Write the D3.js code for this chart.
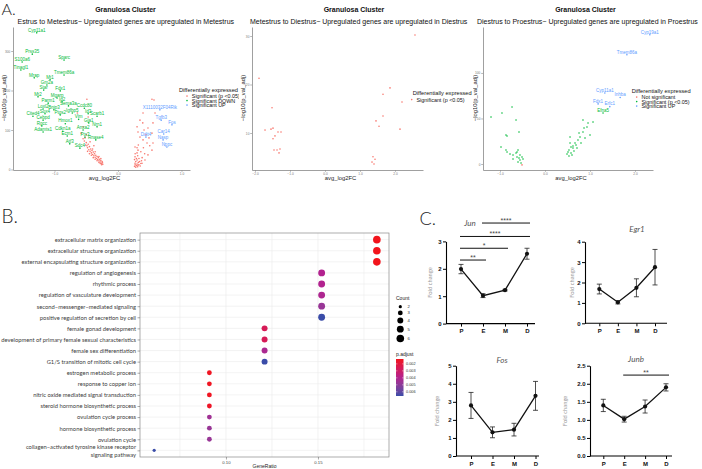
<!DOCTYPE html>
<html><head><meta charset="utf-8">
<script src="https://cdn.jsdelivr.net/npm/d3@7"></script>
<style>body{margin:0;background:#fff}svg{display:block}</style>
</head><body>
<svg id="c" width="702" height="469"></svg>
<script>
// ================= DATA =================
// Panel A.1  Estrus -> Metestrus
const v1Sig = [[-0.55,78],[-0.53,72],[-0.52,80],[-0.50,68],[-0.51,62],[-0.49,60],[-0.48,55],[-0.47,64],[-0.46,50],[-0.45,58],[-0.44,46],[-0.43,52],[-0.42,42],[-0.41,48],[-0.40,38],[-0.39,44],[-0.38,35],[-0.37,40],[-0.36,31],[-0.35,36],[-0.34,28],[-0.33,33],[-0.32,25],[-0.31,30],[-0.30,22],[-0.29,26],[-0.28,19],[-0.27,23],[-0.26,16],[-0.25,20],[-0.24,13],[-0.245,17],[-0.26,12],[-0.28,15],[-0.30,18],[-0.33,22],[-0.36,26],[-0.39,30],[-0.42,36],[-0.45,40],[-0.48,46],[-0.36,45],[-0.40,52],[-0.30,33],[-0.27,28],
  [-0.49,178],[-0.64,143],[-0.47,133],[-0.55,108],[-0.50,88],[-0.58,92],[-0.44,70],[-0.38,60],
  [0.30,108],[0.315,95],[0.346,82],[0.394,75],[0.457,67],[0.268,57],[0.315,49],[0.30,42],[0.268,32],[0.30,24],[0.268,16],[0.315,11],[0.378,16],[0.425,24],[0.472,37],[0.535,49],[0.551,67],[0.488,80],[0.535,92],[0.472,105],[0.551,118],[0.583,143],[0.535,178],[0.567,176],[0.394,143],[0.346,125],
  [0.26,8],[0.27,12],[0.28,6],[0.29,10],[0.30,14],[0.31,7],[0.32,18],[0.33,12],[0.34,20],[0.35,9],[0.36,15],[0.37,22],[0.28,20],[0.29,28],[0.31,35],[0.33,28],[0.26,25],[0.27,40],[0.30,55],[0.32,62],[0.36,45],[0.40,55],[0.42,40],[0.38,30],[0.41,100],[0.44,88],[0.50,60],[0.39,118]];
const v1Down = [["Cyp11a1",-1.28,346],["Prss35",-1.35,292],["S100a6",-1.51,272],["Tinagl1",-1.53,252],["Sparc",-0.85,277],["Mrap",-1.32,232],["Tmem86a",-0.85,239],["Mt1",-1.07,227],["Gm2a",-1.12,214],["Star",-1.17,201],["Fdx1",-0.91,199],["Mt2",-1.26,184],["Mgarp",-0.96,181],["Parm1",-1.10,168],["Id2",-0.88,171],["Loxl2",-1.18,153],["Sema3a",-0.78,161],["Bnip3",-1.01,151],["Ccdc80",-0.53,155],["Cited4",-1.34,135],["Sox4",-1.15,141],["Ptgs2",-0.91,138],["Igfbp5",-0.72,143],["Id3",-0.47,141],["Scarb1",-0.33,135],["Cebpd",-1.18,125],["Vim",-0.62,127],["Gja1",-0.46,118],["Hmox1",-0.83,116],["Rgcc",-1.20,110],["Nrn1",-0.33,108],["Adamts1",-1.18,95],["Cdkn1a",-0.87,97],["Anxa2",-0.55,100],["Ecm1",-0.80,85],["Ptx3",-0.52,82],["Rnase4",-0.35,75],["Atf3",-0.76,65],["Sdc4",-0.60,54]];
const v1Up = [["X1110032F04Rik",0.66,151],["Tgfb3",0.68,125],["Fos",0.85,113],["Car14",0.72,90],["Ddit4",0.44,82],["Nasp",0.71,75],["Nppc",0.77,57]];
const v1XTicks = [-1,0,1], v1YTicks = [0,100,200,300];

// Panel A.2  Metestrus -> Diestrus
const v2Sig = [[2.571,30.2],[-1.886,21.3],[1.857,19.3],[1.657,18.0],[2.2,16.4],[-1.514,15.2],[1.657,13.5],[1.457,12.5],[1.543,11.4],[-1.714,10.6],[-1.543,10.8],[-1.486,11.0],[2.143,10.8],[-1.343,10.2],[-1.257,10.2],[-1.429,9.4],[-1.486,8.8],[-1.286,6.7],[-1.457,6.5],[-1.371,6.5],[-1.314,5.9],[1.371,5.1],[1.429,4.6],[1.343,4.0],[1.4,3.6]];
const v2XTicks = [-2,-1,0,1,2], v2YTicks = [10,20,30];

// Panel A.3  Diestrus -> Proestrus
const v3NotSig = [[-0.511,-1]];
const v3Sig = [[-1.2,51.6],[-0.956,56.0],[-0.733,62.6],[-0.644,48.4],[-0.578,35.2],[-0.867,31.9],[-0.844,30.8],[-0.978,18.7],[-0.867,15.4],[-0.844,13.2],[-0.778,11.0],[-0.711,9.9],[-0.644,12.1],[-0.622,7.7],[-0.578,6.6],[-0.556,4.4],[-0.511,7.7],[-0.6,2.2],[-0.533,1.1],[-0.711,5.5],[-0.622,13.2],[-0.556,9.9],[-0.6,15.4],[-0.489,5.5],
  [0.556,29.7],[0.556,23.1],[0.622,19.8],[0.533,15.4],[0.578,12.1],[0.667,23.1],[0.733,26.4],[0.778,29.7],[0.844,35.2],[0.867,39.6],[0.933,40.7],[0.956,45.1],[1.067,46.2],[0.844,48.4],[1.0,31.9],[0.889,28.6],[0.711,17.6],[0.622,17.6],[0.511,13.2],[0.6,9.9],[0.489,11.0],[0.756,34.1],[0.8,23.1],[0.644,14.3],[0.578,18.7],[0.689,20.9],[0.533,8.8]];
const v3SigLab = [["Efna5",1.29,56]];
const v3Up = [["Cyp19a1",2.33,142],["Tmem86a",1.82,120],["Cyp11a1",1.33,78],["Inhba",1.67,73],["Fdx1",1.18,66],["Erfc1",1.44,63]];
const v3XTicks = [-1,0,1,2], v3YTicks = [0,50,100];

// Panel B  GO enrichment
const goTerms = ["extracellular matrix organization","extracellular structure organization","external encapsulating structure organization","regulation of angiogenesis","rhythmic process","regulation of vasculature development","second\u2212messenger\u2212mediated signaling","positive regulation of secretion by cell","female gonad development","development of primary female sexual characteristics","female sex differentiation","G1/S transition of mitotic cell cycle","estrogen metabolic process","response to copper ion","nitric oxide mediated signal transduction","steroid hormone biosynthetic process","ovulation cycle process","hormone biosynthetic process","ovulation cycle","collagen\u2212activated tyrosine kinase receptor signaling pathway"];
const goRatio = [0.182,0.182,0.182,0.152,0.152,0.152,0.152,0.152,0.121,0.121,0.121,0.121,0.091,0.091,0.091,0.091,0.091,0.091,0.091,0.061];
const goCount = [6,6,6,5,5,5,5,5,4,4,4,4,3,3,3,3,3,3,3,2];
const goPadj = [0.0013,0.0013,0.0013,0.0040,0.0040,0.0041,0.0047,0.0066,0.0026,0.0026,0.0042,0.0066,0.0014,0.0014,0.0014,0.0015,0.0045,0.0047,0.0047,0.0066];
const goXTicks = [0.10,0.15], goXMinor = [0.075,0.125,0.175];
const countLegend = [2,3,4,5,6];
const padjLegend = [0.002,0.003,0.004,0.005,0.006];

// Panel C  qPCR fold change
const stages = ["P","E","M","D"];
const junMean = [1.99,1.02,1.22,2.55], junErr = [0.17,0.07,0.03,0.20];
const egr1Mean = [1.68,1.03,1.74,2.75], egr1Err = [0.24,0.08,0.44,0.87];
const fosMean = [2.80,1.31,1.46,3.33], fosErr = [0.72,0.30,0.35,0.80];
const junbMean = [1.40,1.02,1.37,1.90], junbErr = [0.17,0.08,0.18,0.10];
const junSig = [["P","E","**",2.32],["P","M","*",2.75],["P","D","****",3.18],["E","D","****",3.67]];
const junbSig = [["E","D","**",2.24]];

// ================= DRAW =================
const svg = d3.select("#c");
const FA = "'Liberation Sans', Arial, sans-serif";
const FL = "Lato, 'Open Sans', sans-serif";
const RED = "#F8766D", GREEN = "#00BA38", BLUE = "#619CFF";

function txt(g, x, y, s, o = {}) {
  return g.append("text").attr("x", x).attr("y", y).text(s)
    .attr("font-family", o.ff || FA).attr("font-size", o.fs || 6)
    .attr("font-weight", o.fw || "normal").attr("font-style", o.fst || "normal")
    .attr("fill", o.fill || "#000").attr("text-anchor", o.anchor || "start");
}

function volcano(c) {
  const id = "clip" + c.key;
  svg.append("clipPath").attr("id", id).append("rect")
    .attr("x", c.clip[0]).attr("y", 0).attr("width", c.clip[1] - c.clip[0]).attr("height", 190);
  const g = svg.append("g").attr("clip-path", `url(#${id})`);
  g.append("rect").attr("x", c.clip[0]).attr("y", 0).attr("width", c.clip[1] - c.clip[0]).attr("height", 190).attr("fill", "#fff");
  const x = d3.scaleLinear().domain(c.xd).range(c.xr);
  const y = d3.scaleLinear().domain(c.yd).range(c.yr);
  const ax = g.append("g").attr("transform", `translate(0,${c.yr[0]})`)
    .call(d3.axisBottom(x).tickValues(c.xt).tickSize(1.8).tickSizeOuter(0).tickPadding(0.8));
  const ay = g.append("g").attr("transform", `translate(${c.xr[0]},0)`)
    .call(d3.axisLeft(y).tickValues(c.yt).tickSize(1.8).tickSizeOuter(0).tickPadding(0.8));
  [ax, ay].forEach(a => {
    a.select(".domain").attr("stroke", "#888").attr("stroke-width", 0.8);
    a.selectAll(".tick line").attr("stroke", "#888").attr("stroke-width", 0.6);
    a.selectAll("text").attr("font-size", 3.2).attr("fill", "#777").attr("font-family", FA);
  });
  c.layers.forEach(L => {
    g.append("g").selectAll("circle").data(L.pts).join("circle")
      .attr("cx", d => x(d[L.lab ? 1 : 0])).attr("cy", d => y(d[L.lab ? 2 : 1]))
      .attr("r", 0.8).attr("fill", L.color);
    if (L.lab) {
      g.append("g").selectAll("text").data(L.pts).join("text")
        .attr("x", d => x(d[1])).attr("y", d => y(d[2]) - 1.2).text(d => d[0])
        .attr("font-family", FA).attr("font-size", 4.5).attr("fill", L.color).attr("text-anchor", "middle");
    }
  });
  txt(g, c.titleX, 12, "Granulosa Cluster", { fs: 7, fw: "bold", anchor: "middle", fill: "#111" });
  txt(g, c.subX, 24, c.sub, { fs: 7, fill: "#111" });
  txt(g, (c.xr[0] + c.xr[1]) / 2 + 3, 179.5, "avg_log2FC", { fs: 5.8, anchor: "middle", fill: "#222" });
  txt(g, 0, 0, "\u2212log10(p_val_adj)", { fs: 5.8, anchor: "middle", fill: "#222" })
    .attr("transform", `translate(${c.yLabX},98) rotate(-90)`);
  const lg = c.legend;
  txt(g, lg.x, lg.y, "Differentially expressed", { fs: 5.7, fill: "#111" });
  lg.items.forEach((it, i) => {
    const yy = lg.y + 4.6 + i * 4.5;
    g.append("circle").attr("cx", lg.x + lg.dx).attr("cy", yy).attr("r", 0.8).attr("fill", it[1]);
    txt(g, lg.x + lg.dx + 4.8, yy + 1.9, it[0], { fs: 5.4, fill: "#111" });
  });
}

volcano({ key: "v1", clip: [0, 239], xd: [-1.654, 1.134], xr: [13, 190], yd: [-1.27, 360.8], yr: [170, 27],
  xt: v1XTicks, yt: v1YTicks, titleX: 125.5, subX: 17.5,
  sub: "Estrus to Metestrus\u2212 Upregulated genes are upregulated in Metestrus", yLabX: 6,
  layers: [{ pts: v1Sig, color: RED }, { pts: v1Down, color: GREEN, lab: true }, { pts: v1Up, color: BLUE, lab: true }],
  legend: { x: 179, y: 91.5, dx: 8, items: [["Significant (p <0.05)", RED], ["Significant DOWN", GREEN], ["Significant UP", BLUE]] } });

volcano({ key: "v2", clip: [239, 473], xd: [-2.086, 2.8], xr: [252, 423], yd: [2.371, 31.86], yr: [170, 27],
  xt: v2XTicks, yt: v2YTicks, titleX: 354, subX: 250,
  sub: "Metestrus to Diestrus\u2212 Upregulated genes are upregulated in Diestrus", yLabX: 245,
  layers: [{ pts: v2Sig, color: RED }],
  legend: { x: 412.7, y: 95, dx: -1, items: [["Significant (p <0.05)", RED]] } });

volcano({ key: "v3", clip: [473, 702], xd: [-1.378, 2.4], xr: [483, 653], yd: [-6.6, 150.5], yr: [170, 27],
  xt: v3XTicks, yt: v3YTicks, titleX: 585.5, subX: 477,
  sub: "Diestrus to Proestrus\u2212 Upregulated genes are upregulated in Proestrus", yLabX: 477,
  layers: [{ pts: v3NotSig, color: RED }, { pts: v3Sig, color: GREEN }, { pts: v3SigLab, color: GREEN, lab: true }, { pts: v3Up, color: BLUE, lab: true }],
  legend: { x: 631.7, y: 92.5, dx: 5, items: [["Not significant", RED], ["Significant (p <0.05)", GREEN], ["Significant UP", BLUE]] } });

// ---------- Panel B ----------
(function () {
  const g = svg.append("g");
  const L = 140, R = 389, T = 233, B = 457;
  const x = d3.scaleLinear().domain([0.0533, 0.1886]).range([L, R]);
  const y = d3.scalePoint().domain(goTerms).range([T, B]).padding(0.6);
  const col = d3.scaleLinear().domain([0.0013, 0.0040, 0.0066]).range(["#F2141C", "#B2228F", "#3A4CA8"]).interpolate(d3.interpolateLab);
  const rs = d3.scaleLog().domain([2, 6]).range([1.6, 3.8]);
  goXMinor.concat(goXTicks).forEach(v => g.append("line").attr("x1", x(v)).attr("x2", x(v)).attr("y1", T).attr("y2", B).attr("stroke", "#ebebeb").attr("stroke-width", 0.6));
  goTerms.forEach(t => g.append("line").attr("x1", L).attr("x2", R).attr("y1", y(t)).attr("y2", y(t)).attr("stroke", "#ebebeb").attr("stroke-width", 0.6));
  g.append("rect").attr("x", L).attr("y", T).attr("width", R - L).attr("height", B - T).attr("fill", "none").attr("stroke", "#8a8a8a").attr("stroke-width", 0.7);
  const ay = g.append("g").attr("transform", `translate(${L},0)`).call(d3.axisLeft(y).tickSize(2.5).tickPadding(1.5));
  ay.select(".domain").remove();
  ay.selectAll(".tick line").attr("stroke", "#555").attr("stroke-width", 0.5);
  ay.selectAll("text").attr("font-family", FL).attr("font-size", 5.8).attr("fill", "#3c3c3c")
    .each(function (d) {
      const el = d3.select(this);
      if (d.length > 55) {
        const w = d.split(" "); let a = [], b = [];
        w.forEach(s => { if ((a.join(" ") + " " + s).length <= 45 && b.length === 0) a.push(s); else b.push(s); });
        el.text(null).attr("dy", null);
        el.append("tspan").attr("x", -4).attr("dy", "-0.28em").text(a.join(" "));
        el.append("tspan").attr("x", -4).attr("dy", "1.3em").text(b.join(" "));
      }
    });
  const ax = g.append("g").attr("transform", `translate(0,${B})`).call(d3.axisBottom(x).tickValues(goXTicks).tickFormat(d3.format(".2f")).tickSize(2.5).tickPadding(1.5));
  ax.select(".domain").remove();
  ax.selectAll(".tick line").attr("stroke", "#555").attr("stroke-width", 0.5);
  ax.selectAll("text").attr("font-family", FA).attr("font-size", 4.3).attr("fill", "#444");
  txt(g, (L + R) / 2, 467.5, "GeneRatio", { fs: 5, anchor: "middle", fill: "#222" });
  g.append("g").selectAll("circle").data(goTerms).join("circle")
    .attr("cx", (d, i) => x(goRatio[i])).attr("cy", d => y(d))
    .attr("r", (d, i) => rs(goCount[i])).attr("fill", (d, i) => col(goPadj[i]));
  // Count legend
  txt(g, 396, 300, "Count", { fs: 5, fill: "#222" });
  let cy = 306.7;
  countLegend.forEach((c, i) => {
    if (i > 0) cy += rs(countLegend[i - 1]) + rs(c) + 2.2;
    g.append("circle").attr("cx", 400.3).attr("cy", cy).attr("r", rs(c)).attr("fill", "#000");
    txt(g, 407.5, cy + 1.5, String(c), { fs: 4.2, fill: "#333" });
  });
  // p.adjust legend
  txt(g, 396, 355.5, "p.adjust", { fs: 5, fill: "#222" });
  const py = d3.scaleLinear().domain([0.0013, 0.0066]).range([359, 396]);
  const defs = svg.append("defs");
  const gr = defs.append("linearGradient").attr("id", "pg").attr("x1", 0).attr("x2", 0).attr("y1", 0).attr("y2", 1);
  d3.range(0, 1.0001, 0.1).forEach(t => gr.append("stop").attr("offset", t).attr("stop-color", col(0.0013 + t * 0.0053)));
  g.append("rect").attr("x", 396).attr("y", 359).attr("width", 7.5).attr("height", 37).attr("fill", "url(#pg)");
  padjLegend.forEach(v => {
    g.append("line").attr("x1", 396).attr("x2", 397.5).attr("y1", py(v)).attr("y2", py(v)).attr("stroke", "#fff").attr("stroke-width", 0.4);
    g.append("line").attr("x1", 402).attr("x2", 403.5).attr("y1", py(v)).attr("y2", py(v)).attr("stroke", "#fff").attr("stroke-width", 0.4);
    txt(g, 406, py(v) + 1.4, d3.format(".3f")(v), { fs: 3.8, fill: "#333" });
  });
})();

// ---------- Panel C ----------
function foldChart(c) {
  const g = svg.append("g");
  const x = d3.scalePoint().domain(stages).range(c.xr);
  const y = d3.scaleLinear().domain([0, c.ymax]).range([c.y0, c.ytop]);
  const ay = g.append("g").attr("transform", `translate(${c.ax},0)`)
    .call(d3.axisLeft(y).tickValues(c.yt).tickFormat(d3.format(c.fmt)).tickSize(3).tickPadding(1.5).tickSizeOuter(0));
  ay.select(".domain").attr("stroke", "#000").attr("stroke-width", 1.1);
  const axb = g.append("g").attr("transform", `translate(0,${c.y0})`).call(d3.axisBottom(x).tickSize(3).tickPadding(2.5));
  axb.select(".domain").remove();
  g.append("line").attr("x1", c.ax).attr("x2", c.xe).attr("y1", c.y0).attr("y2", c.y0).attr("stroke", "#000").attr("stroke-width", 1.1);
  [ay, axb].forEach(a => {
    a.selectAll(".tick line").attr("stroke", "#000").attr("stroke-width", 1);
    a.selectAll("text").attr("font-family", FA).attr("font-weight", "bold").attr("font-size", 6).attr("fill", "#111");
  });
  const pts = stages.map((s, i) => ({ s, m: c.mean[i], e: c.err[i] }));
  g.append("path").datum(pts).attr("fill", "none").attr("stroke", "#111").attr("stroke-width", 1.3)
    .attr("d", d3.line().x(d => x(d.s)).y(d => y(d.m)));
  pts.forEach(d => {
    const xx = x(d.s);
    g.append("line").attr("x1", xx).attr("x2", xx).attr("y1", y(d.m - d.e)).attr("y2", y(d.m + d.e)).attr("stroke", "#222").attr("stroke-width", 0.8);
    [d.m - d.e, d.m + d.e].forEach(v => g.append("line").attr("x1", xx - 2.5).attr("x2", xx + 2.5).attr("y1", y(v)).attr("y2", y(v)).attr("stroke", "#222").attr("stroke-width", 0.8));
    g.append("circle").attr("cx", xx).attr("cy", y(d.m)).attr("r", 2.1).attr("fill", "#111");
  });
  txt(g, c.tx, c.ty, c.title, { ff: FL, fs: 8, fst: "italic", anchor: "middle", fill: "#555" });
  txt(g, 0, 0, "Fold change", { ff: FL, fs: 5.8, anchor: "middle", fill: "#999" })
    .attr("transform", `translate(${c.flx},${(c.y0 + c.ytop) / 2}) rotate(-90)`);
  (c.sig || []).forEach(s => {
    const yy = y(s[3]);
    g.append("line").attr("x1", x(s[0]) - 1).attr("x2", x(s[1]) + 3).attr("y1", yy).attr("y2", yy).attr("stroke", "#111").attr("stroke-width", 1);
    txt(g, (x(s[0]) + x(s[1])) / 2 + 1, yy - 0.3, s[2], { fs: 7, anchor: "middle", fill: "#444" });
  });
}

foldChart({ title: "Jun", mean: junMean, err: junErr, ax: 446, xe: 535, xr: [461, 527], y0: 323.6, ytop: 241.4, ymax: 3, yt: [0, 1, 2, 3], fmt: "d", tx: 470, ty: 226, flx: 432, sig: junSig });
foldChart({ title: "Egr1", mean: egr1Mean, err: egr1Err, ax: 585, xe: 667, xr: [599.3, 655], y0: 323.3, ytop: 241.7, ymax: 4, yt: [0, 1, 2, 3, 4], fmt: "d", tx: 637, ty: 232, flx: 574 });
foldChart({ title: "Fos", mean: fosMean, err: fosErr, ax: 456, xe: 539, xr: [471, 535.5], y0: 456, ytop: 365.7, ymax: 5, yt: [0, 1, 2, 3, 4, 5], fmt: "d", tx: 502, ty: 363, flx: 439 });
foldChart({ title: "Junb", mean: junbMean, err: junbErr, ax: 590, xe: 672, xr: [603.3, 666], y0: 456, ytop: 365.7, ymax: 2.5, yt: [0, 0.5, 1, 1.5, 2, 2.5], fmt: ".1f", tx: 636, ty: 362, flx: 567, sig: junbSig });

// Panel letters
txt(svg, 1.5, 15, "A.", { ff: FL, fs: 16, fw: 300, fill: "#222" });
txt(svg, 1.5, 223, "B.", { ff: FL, fs: 19, fw: 300, fill: "#222" });
txt(svg, 419.5, 225, "C.", { ff: FL, fs: 18, fw: 300, fill: "#222" });
</script>
</body></html>
